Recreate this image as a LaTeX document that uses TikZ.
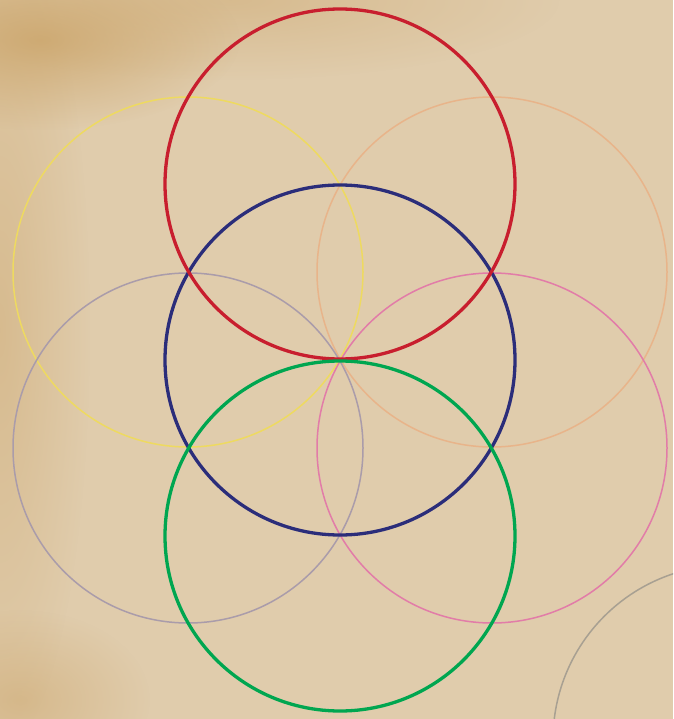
\documentclass[tikz,border=0pt]{standalone}
\usetikzlibrary{fadings}
\tikzfading[name=softspot, inner color=transparent!0, outer color=transparent!100]
\begin{document}
\begin{tikzpicture}[x=1pt,y=-1pt,
  thin ring/.style={line width=1.5pt},
  thick ring/.style={line width=3.3pt},
  stain/.style={path fading=softspot, fill opacity=#1},
  stain/.default=1]
\definecolor{bg}{RGB}{224,204,172}
\definecolor{bgdark}{RGB}{204,166,108}
\definecolor{ringred}{RGB}{200,30,46}
\definecolor{ringblue}{RGB}{43,45,122}
\definecolor{ringgreen}{RGB}{0,166,80}
\definecolor{ringyellow}{RGB}{238,218,96}
\definecolor{ringpeach}{RGB}{232,180,138}
\definecolor{ringmauve}{RGB}{170,156,170}
\definecolor{ringpink}{RGB}{226,124,168}
\definecolor{ringgray}{RGB}{168,160,146}
\useasboundingbox (0,0) rectangle (673,719);
\begin{scope}
\clip (0,0) rectangle (673,719);
\fill[bg] (0,0) rectangle (673,719);
\fill[bgdark, stain=0.45] (0,330) ellipse (90 and 420);
\fill[bgdark, stain=0.45] (230,0) ellipse (330 and 80);
\fill[bgdark, stain=0.85] (40,40) ellipse (200 and 90);
\fill[bgdark, stain=0.5] (20,700) ellipse (130 and 90);
% thin rings
\draw[thin ring, ringyellow] (188,272) circle (175);
\draw[thin ring, ringpeach] (492,272) circle (175);
\draw[thin ring, ringmauve] (188,448) circle (175);
\draw[thin ring, ringpink] (492,448) circle (175);
\draw[thin ring, ringgray] (728,740) circle (175);
% thick rings
\draw[thick ring, ringblue] (340,360) circle (175);
\draw[thick ring, ringred] (340,184) circle (175);
\draw[thick ring, ringgreen] (340,536) circle (175);
\end{scope}
\end{tikzpicture}
\end{document}
